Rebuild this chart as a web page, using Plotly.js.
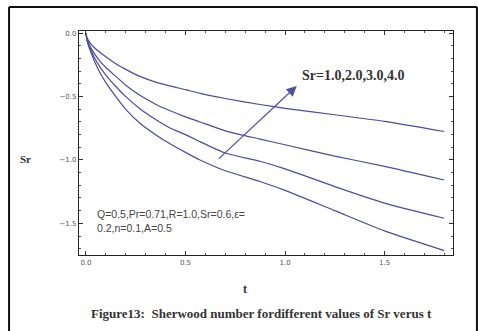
<!DOCTYPE html>
<html>
<head>
<meta charset="utf-8">
<script src="https://cdn.plot.ly/plotly-3.0.1.min.js"></script>
<style>html,body{margin:0;padding:0;background:#fff;}#chart{width:478px;height:331px;}</style>
</head>
<body>
<div id="chart"></div>
<script>
// Time values (t)
const tValues = [0, 0.005, 0.01, 0.02, 0.04, 0.07, 0.1, 0.15, 0.2, 0.271, 0.35, 0.42, 0.5, 0.573, 0.7, 0.874, 1.0, 1.25, 1.5, 1.8];
// Sherwood number curves, Sr = 4.0 (top) ... Sr = 1.0 (bottom)
const srCurve4 = [0, -0.035, -0.05, -0.075, -0.11, -0.15, -0.185, -0.24, -0.285, -0.34, -0.385, -0.415, -0.445, -0.474, -0.515, -0.562, -0.592, -0.643, -0.695, -0.775];
const srCurve3 = [0, -0.045, -0.065, -0.10, -0.155, -0.22, -0.27, -0.34, -0.41, -0.49, -0.56, -0.61, -0.66, -0.70, -0.77, -0.835, -0.88, -0.97, -1.05, -1.158];
const srCurve2 = [0, -0.05, -0.075, -0.115, -0.185, -0.265, -0.33, -0.42, -0.50, -0.595, -0.68, -0.745, -0.80, -0.855, -0.945, -1.01, -1.07, -1.21, -1.34, -1.46];
const srCurve1 = [0, -0.055, -0.085, -0.13, -0.21, -0.31, -0.39, -0.50, -0.60, -0.71, -0.80, -0.87, -0.94, -1.0, -1.085, -1.17, -1.24, -1.40, -1.56, -1.715];
const curves = [srCurve4, srCurve3, srCurve2, srCurve1];

const xTickVals = [0, 0.5, 1.0, 1.5];
const xTickText = ['0.0', '0.5', '1.0', '1.5'];
const yTickVals = [0, -0.5, -1.0, -1.5];
const yTickText = ['0.0', '\u22120.5', '\u22121.0', '\u22121.5'];

const arrowLabel = 'Sr=1.0,2.0,3.0,4.0';
const paramLabel = 'Q=0.5,Pr=0.71,R=1.0,Sr=0.6,\u03b5=<br>0.2,n=0.1,A=0.5';
const captionText = 'Figure13:  Sherwood number fordifferent values of Sr verus t';

const lineColor = '#4c4c9e';
const traces = curves.map(c => ({
  x: tValues, y: c, type: 'scatter', mode: 'lines',
  line: {color: lineColor, width: 1.2, shape: 'spline', smoothing: 0.6},
  hoverinfo: 'skip', showlegend: false
}));

const axisCommon = {
  showgrid: false, zeroline: false, showline: true, linecolor: '#222', linewidth: 1.2,
  mirror: 'ticks', ticks: 'inside', ticklen: 4, tickwidth: 1, tickcolor: '#333',
  tickfont: {family: 'DejaVu Sans', size: 7, color: '#555'},
  minor: {ticks: 'inside', ticklen: 2, tickcolor: '#555', dtick: 0.1, showgrid: false}
};

const layout = {
  width: 478, height: 331,
  margin: {l: 79, r: 25, t: 31, b: 76},
  paper_bgcolor: '#fff', plot_bgcolor: '#fff',
  xaxis: Object.assign({}, axisCommon, {
    range: [-0.035, 1.844], tickvals: xTickVals, ticktext: xTickText,
    minor: Object.assign({}, axisCommon.minor, {tick0: 0})
  }),
  yaxis: Object.assign({}, axisCommon, {
    range: [-1.75, 0.018], tickvals: yTickVals, ticktext: yTickText,
    minor: Object.assign({}, axisCommon.minor, {tick0: 0})
  }),
  annotations: [
    {x: 1.059, y: -0.416, ax: 0.66, ay: -1.0, xref: 'x', yref: 'y', axref: 'x', ayref: 'y',
     showarrow: true, arrowhead: 2, arrowsize: 1.7, arrowwidth: 1.2, arrowcolor: '#4a52a0', text: ''},
    {x: 1.075, y: -0.337, xref: 'x', yref: 'y', xanchor: 'left', yanchor: 'middle', showarrow: false,
     text: '<b>' + arrowLabel + '</b>', font: {family: 'Liberation Serif', size: 14, color: '#333'}},
    {x: 0.045, y: -1.48, xref: 'x', yref: 'y', xanchor: 'left', yanchor: 'middle', align: 'left', showarrow: false,
     text: paramLabel, font: {family: 'Liberation Sans', size: 10.5, color: '#444'}},
    {x: -0.142, y: 0.43, xref: 'paper', yref: 'paper', xanchor: 'center', yanchor: 'middle', showarrow: false,
     text: '<b>Sr</b>', font: {family: 'Liberation Serif', size: 11, color: '#333'}},
    {x: 0.444, y: -0.151, xref: 'paper', yref: 'paper', xanchor: 'center', yanchor: 'middle', showarrow: false,
     text: '<b>t</b>', font: {family: 'Liberation Serif', size: 12, color: '#333'}},
    {x: 0.489, y: -0.259, xref: 'paper', yref: 'paper', xanchor: 'center', yanchor: 'middle', showarrow: false,
     text: '<b>' + captionText + '</b>', font: {family: 'Liberation Serif', size: 13, color: '#333'}}
  ],
  shapes: [
    {type: 'line', xref: 'paper', yref: 'paper', x0: -0.187, x1: -0.187, y0: 1.107, y1: -0.4, line: {color: '#111', width: 2}},
    {type: 'line', xref: 'paper', yref: 'paper', x0: -0.187, x1: 1.064, y0: 1.107, y1: 1.107, line: {color: '#111', width: 2}},
    {type: 'line', xref: 'paper', yref: 'paper', x0: 1.064, x1: 1.064, y0: 1.107, y1: -0.4, line: {color: '#111', width: 2}}
  ]
};

Plotly.newPlot('chart', traces, layout, {displayModeBar: false, staticPlot: true});
</script>
</body>
</html>
